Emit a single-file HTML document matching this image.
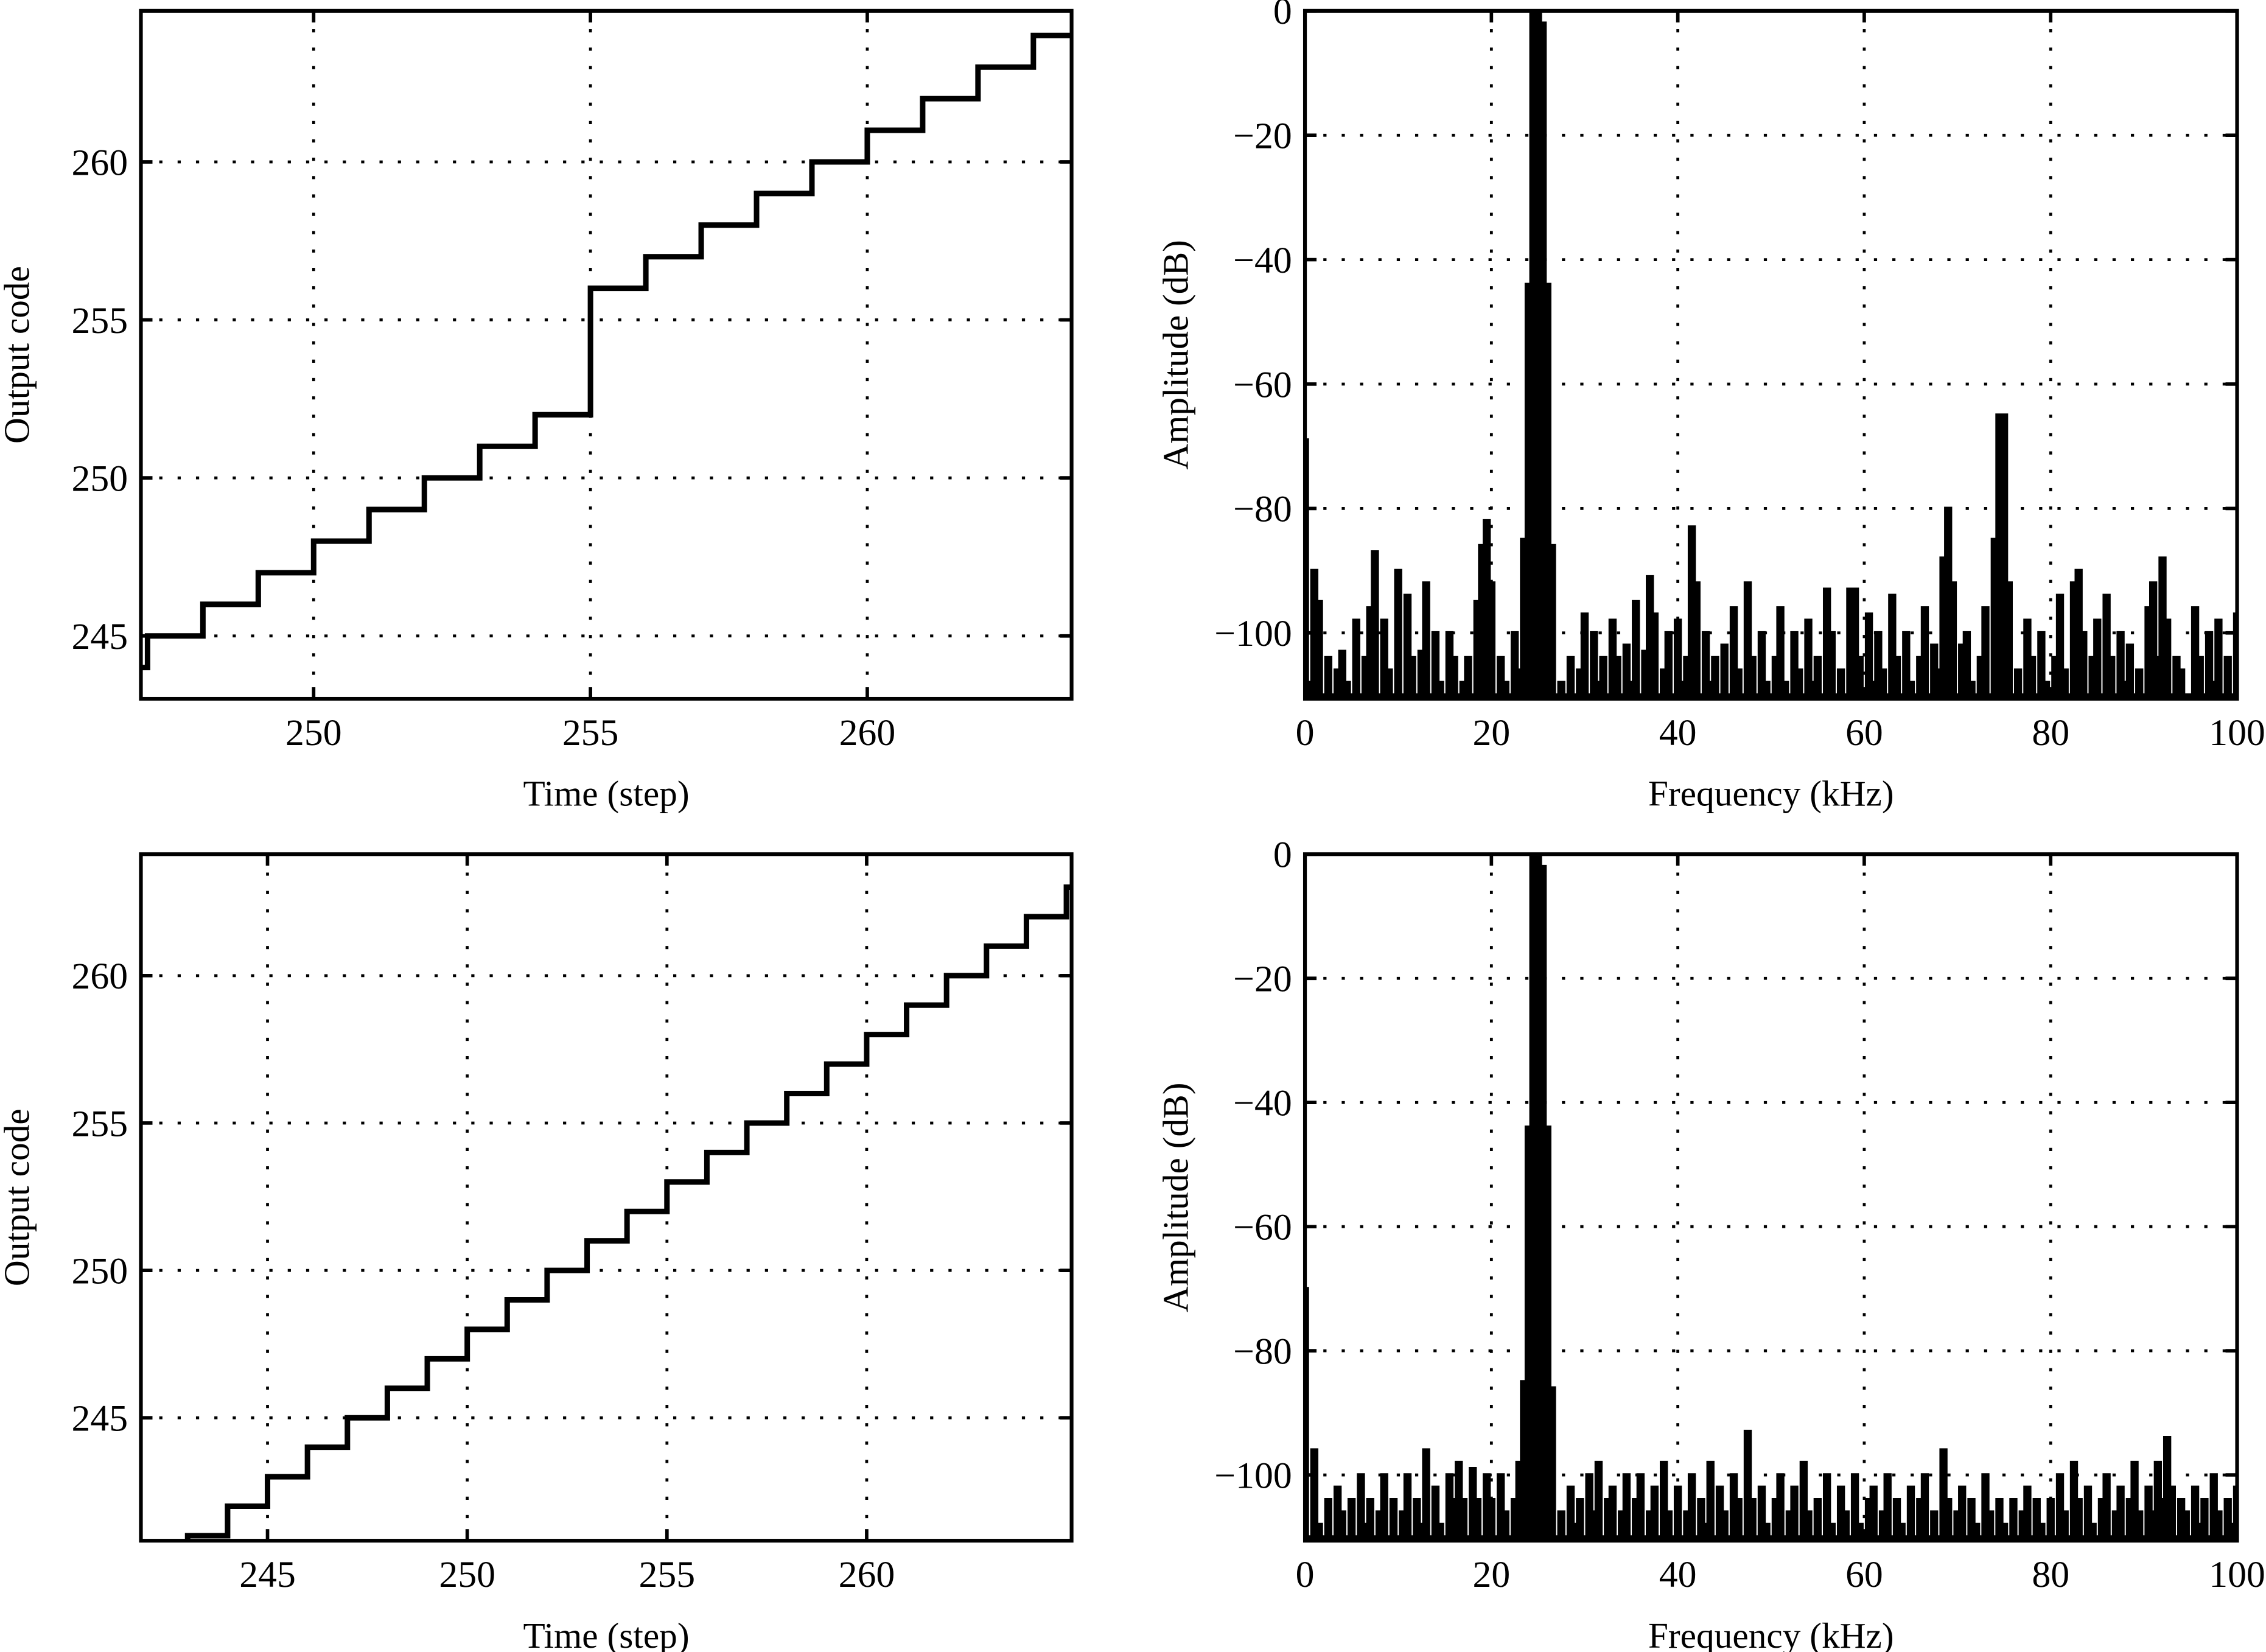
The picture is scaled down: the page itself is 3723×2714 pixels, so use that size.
<!DOCTYPE html>
<html><head><meta charset="utf-8"><style>
html,body{margin:0;padding:0;background:#fff}
svg{display:block}
text{font-family:"Liberation Serif","DejaVu Serif",serif;fill:#000}
</style></head><body>
<svg id="fig" width="3723" height="2714" viewBox="0 0 1568 1143" preserveAspectRatio="none" xmlns="http://www.w3.org/2000/svg"></svg>
<script>
// ---- data ----
const tlTimes=[246,247,248,249,250,251,252,253,254,255,256,257,258,259,260,261,262,263,264];
const tlCodes=[244,245,246,247,248,249,250,251,252,256,257,258,259,260,261,262,263,264,264];
const blTimes=[242,243,244,245,246,247,248,249,250,251,252,253,254,255,256,257,258,259,260,261,262,263,264,265,266];
const blCodes=[240,241,242,243,244,245,246,247,248,249,250,251,252,253,254,255,256,257,258,259,260,261,262,263,263.5];
const freqStep=0.5;
const trAmp=[-69,-108,-90,-95,-110,-104,-110,-106,-103,-108,
-110,-98,-110,-104,-96,-87,-110,-98,-106,-110,
-90,-110,-94,-104,-110,-103,-92,-110,-100,-108,
-110,-100,-104,-110,-108,-104,-110,-95,-86,-82,
-92,-110,-104,-108,-110,-100,-106,-85,-44,0,
0,-2,-44,-86,-110,-108,-110,-104,-110,-106,
-97,-110,-100,-108,-104,-110,-98,-104,-110,-102,
-108,-95,-110,-103,-91,-97,-110,-106,-100,-110,
-98,-108,-104,-83,-92,-110,-100,-108,-104,-110,
-102,-110,-96,-106,-110,-92,-104,-110,-100,-108,
-110,-104,-96,-108,-110,-100,-106,-110,-98,-108,
-104,-110,-93,-100,-110,-106,-110,-93,-93,-104,
-110,-97,-108,-100,-106,-110,-94,-104,-110,-100,
-108,-110,-104,-96,-110,-102,-106,-88,-80,-92,
-110,-102,-100,-108,-110,-104,-96,-110,-85,-65,
-65,-92,-110,-106,-110,-98,-104,-110,-100,-108,
-110,-104,-94,-106,-110,-92,-90,-100,-110,-104,
-98,-110,-94,-104,-110,-100,-108,-102,-110,-106,
-110,-96,-92,-104,-88,-98,-110,-104,-106,-110,
-110,-96,-104,-110,-100,-108,-98,-110,-104,-110,-97];
const brAmp=[-70,-110,-96,-108,-110,-104,-110,-102,-106,-110,
-104,-110,-100,-108,-104,-110,-106,-100,-110,-104,
-110,-106,-100,-110,-104,-108,-96,-110,-102,-108,
-110,-100,-104,-98,-104,-110,-99,-104,-110,-100,
-104,-110,-100,-106,-110,-104,-98,-85,-44,0,
0,-2,-44,-86,-110,-106,-110,-102,-108,-104,
-110,-100,-106,-98,-110,-104,-102,-110,-106,-100,
-110,-104,-100,-110,-106,-102,-110,-98,-106,-110,
-102,-110,-106,-100,-110,-104,-108,-98,-110,-102,
-106,-110,-100,-104,-110,-93,-104,-110,-102,-108,
-110,-104,-100,-110,-106,-102,-110,-98,-106,-110,
-104,-110,-100,-108,-110,-102,-106,-110,-100,-108,
-110,-104,-102,-110,-106,-100,-110,-104,-108,-110,
-102,-110,-104,-100,-110,-106,-110,-96,-104,-110,
-106,-102,-110,-104,-108,-110,-100,-106,-110,-104,
-108,-110,-104,-110,-106,-102,-110,-104,-108,-110,
-104,-110,-100,-106,-110,-98,-104,-110,-102,-108,
-110,-104,-100,-110,-106,-102,-110,-104,-98,-106,
-110,-102,-106,-98,-104,-94,-102,-110,-104,-106,
-110,-102,-108,-104,-110,-100,-106,-110,-104,-108,-102];
const tlXTicks=[250,255,260], tlYTicks=[245,250,255,260];
const blXTicks=[245,250,255,260], blYTicks=[245,250,255,260];
const specXTicks=[0,20,40,60,80,100], specYTicks=[0,-20,-40,-60,-80,-100];

const NS="http://www.w3.org/2000/svg";
const svg=document.getElementById('fig');
function mk(tag,attrs,parent){const e=document.createElementNS(NS,tag);for(const k in attrs)e.setAttribute(k,attrs[k]);(parent||svg).appendChild(e);return e;}
function lab(v){return v<0?'\u2212'+Math.abs(v):String(v);}

function panel(id,box,xd,yd,xt,yt,xlabel,ylabel,ylabX){
  const g=mk('g',{});
  
  
  const sx=v=>box.x0+(v-xd[0])/(xd[1]-xd[0])*(box.x1-box.x0);
  const sy=v=>box.y1-(v-yd[0])/(yd[1]-yd[0])*(box.y1-box.y0);
  const cp=mk('clipPath',{id:'clip-'+id},g);
  mk('rect',{x:box.x0,y:box.y0,width:box.x1-box.x0,height:box.y1-box.y0},cp);
  xt.forEach(v=>{const x=sx(v);
    const l=mk('line',{x1:x,x2:x,y1:box.y0,y2:box.y1,stroke:'#000','stroke-width':2,'stroke-dasharray':'2.2 10.5'},g);
    
    
    mk('line',{x1:x,x2:x,y1:box.y1,y2:box.y1-8,stroke:'#000','stroke-width':2.4},g);
    mk('line',{x1:x,x2:x,y1:box.y0,y2:box.y0+8,stroke:'#000','stroke-width':2.4},g);
    const t=mk('text',{x:x,y:box.y1+32,'text-anchor':'middle','font-size':26},g);t.textContent=lab(v);
    
    
  });
  yt.forEach(v=>{const y=sy(v);
    const l=mk('line',{x1:box.x0,x2:box.x1,y1:y,y2:y,stroke:'#000','stroke-width':2,'stroke-dasharray':'2.2 10.5'},g);
    
    
    mk('line',{x1:box.x0,x2:box.x0+8,y1:y,y2:y,stroke:'#000','stroke-width':2.4},g);
    mk('line',{x1:box.x1,x2:box.x1-8,y1:y,y2:y,stroke:'#000','stroke-width':2.4},g);
    const t=mk('text',{x:box.x0-9,y:y+9,'text-anchor':'end','font-size':26},g);t.textContent=lab(v);
    
    
  });
  const xl=mk('text',{x:(box.x0+box.x1)/2,y:box.y1+74,'text-anchor':'middle','font-size':25},g);xl.textContent=xlabel;
  
  
  const cy=(box.y0+box.y1)/2;
  const yl=mk('text',{x:ylabX,y:cy,'text-anchor':'middle','font-size':25,transform:'rotate(-90 '+ylabX+' '+cy+')'},g);yl.textContent=ylabel;
  
  
  return {g,sx,sy};
}
function frame(g,box){const r=mk('rect',{x:box.x0,y:box.y0,width:box.x1-box.x0,height:box.y1-box.y0,fill:'none',stroke:'#000','stroke-width':2.6},g);
  
  }

function stairs(id,box,xd,yd,xt,yt,times,codes){
  const p=panel(id,box,xd,yd,xt,yt,'Time (step)','Output code',20);
  let d='';
  for(let i=0;i<times.length;i++){
    const x=p.sx(times[i]),y=p.sy(codes[i]);
    if(i===0)d+='M'+x+' '+y;else{d+=' L'+x+' '+p.sy(codes[i-1])+' L'+x+' '+y;}
    if(i<times.length-1)d+=' L'+p.sx(times[i+1])+' '+y;
  }
  const path=mk('path',{d:d,fill:'none',stroke:'#000','stroke-width':3.8,'clip-path':'url(#clip-'+id+')'},p.g);
  
  
  frame(p.g,box);
}
function spectrum(id,box,amps){
  const yd=[-110.6,0];
  const p=panel(id,box,[0,100],yd,specXTicks,specYTicks,'Frequency (kHz)','Amplitude (dB)',822);
  let d='M'+p.sx(0)+' '+box.y1;
  amps.forEach((a,i)=>{
    const y=p.sy(Math.max(a,yd[0]));
    const xa=p.sx(Math.max(0,i*freqStep-freqStep/2)), xb=p.sx(Math.min(100,i*freqStep+freqStep/2));
    d+=' L'+xa+' '+y+' L'+xb+' '+y;
  });
  d+=' L'+p.sx(100)+' '+box.y1+' Z';
  const path=mk('path',{d:d,fill:'#000',stroke:'#000','stroke-width':2.4,'stroke-linejoin':'miter','clip-path':'url(#clip-'+id+')'},p.g);
  
  
  frame(p.g,box);
}
stairs('top-left',{x0:97.5,x1:741.5,y0:7.5,y1:483.5},[246.88,263.69],[243.01,264.78],tlXTicks,tlYTicks,tlTimes,tlCodes);
spectrum('top-right',{x0:903,x1:1548,y0:7.5,y1:483.5},trAmp);
stairs('bottom-left',{x0:97.5,x1:741.5,y0:591,y1:1066},[241.83,265.13],[240.83,264.12],blXTicks,blYTicks,blTimes,blCodes);
spectrum('bottom-right',{x0:903,x1:1548,y0:591,y1:1066},brAmp);
</script>
</body></html>
